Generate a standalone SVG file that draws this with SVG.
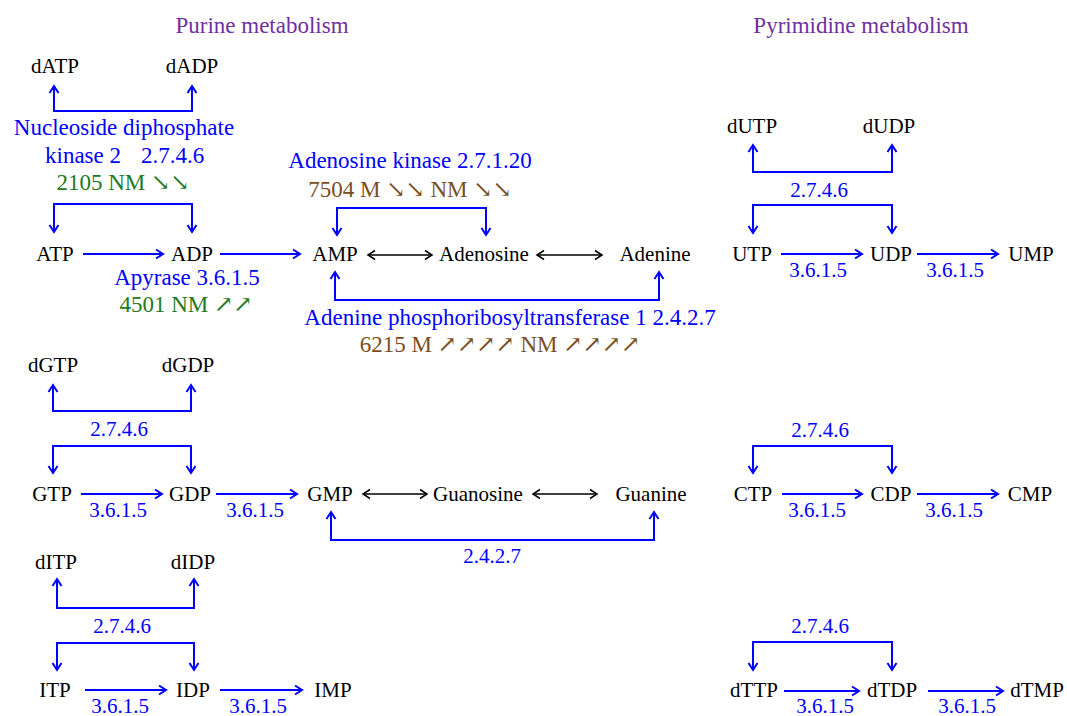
<svg xmlns="http://www.w3.org/2000/svg" width="1067" height="716" viewBox="0 0 1067 716">
  <style>
    text { font-family: "Liberation Serif", "DejaVu Serif", serif; }
    .node { font-size: 21px; fill: #000; text-anchor: middle; }
    .title { font-size: 23px; fill: #7030A0; text-anchor: middle; }
    .enz { font-size: 23px; fill: #0000FF; text-anchor: middle; }
    .ec { font-size: 21px; fill: #0000FF; text-anchor: middle; }
    .exprG { font-size: 23px; fill: #237A23; text-anchor: middle; }
    .exprB { font-size: 23px; fill: #7A4E22; text-anchor: middle; }
    .flow { fill: none; stroke: #0000FF; stroke-width: 2; marker-end: url(#arrowBlue); }
    .rev { fill: none; stroke: #000; stroke-width: 1.5; marker-start: url(#arrowBlack); marker-end: url(#arrowBlack); }
  </style>
  <defs>
    <marker id="arrowBlue" markerUnits="userSpaceOnUse" markerWidth="14" markerHeight="14" viewBox="-10 -7 14 14" refX="0" refY="0" orient="auto">
      <path d="M-7,-4.5 L0,0 L-7,4.5" fill="none" stroke="#0000FF" stroke-width="2"/>
    </marker>
    <marker id="arrowBlack" markerUnits="userSpaceOnUse" markerWidth="14" markerHeight="14" viewBox="-10 -7 14 14" refX="0" refY="0" orient="auto-start-reverse">
      <path d="M-7,-4.5 L0,0 L-7,4.5" fill="none" stroke="#000" stroke-width="1.5"/>
    </marker>
  </defs>

  <rect width="1067" height="716" fill="#fff"/>

  <!-- section titles -->
  <text class="title" x="262" y="33">Purine metabolism</text>
  <text class="title" x="861" y="33">Pyrimidine metabolism</text>

  <!-- purine: adenine branch -->
  <g id="dATP"><text class="node" x="55" y="73">dATP</text></g>
  <g id="dADP"><text class="node" x="192" y="73">dADP</text></g>
  <g id="ATP"><text class="node" x="55" y="261">ATP</text></g>
  <g id="ADP"><text class="node" x="192" y="261">ADP</text></g>
  <g id="AMP"><text class="node" x="335" y="261">AMP</text></g>
  <g id="Adenosine"><text class="node" x="484" y="261">Adenosine</text></g>
  <g id="Adenine"><text class="node" x="655" y="261">Adenine</text></g>

  <!-- purine: guanine branch -->
  <g id="dGTP"><text class="node" x="53" y="372">dGTP</text></g>
  <g id="dGDP"><text class="node" x="188" y="372">dGDP</text></g>
  <g id="GTP"><text class="node" x="52" y="501">GTP</text></g>
  <g id="GDP"><text class="node" x="190" y="501">GDP</text></g>
  <g id="GMP"><text class="node" x="330" y="501">GMP</text></g>
  <g id="Guanosine"><text class="node" x="478" y="501">Guanosine</text></g>
  <g id="Guanine"><text class="node" x="651" y="501">Guanine</text></g>

  <!-- purine: inosine branch -->
  <g id="dITP"><text class="node" x="56" y="569">dITP</text></g>
  <g id="dIDP"><text class="node" x="193" y="569">dIDP</text></g>
  <g id="ITP"><text class="node" x="55" y="697">ITP</text></g>
  <g id="IDP"><text class="node" x="193" y="697">IDP</text></g>
  <g id="IMP"><text class="node" x="333" y="697">IMP</text></g>

  <!-- pyrimidine -->
  <g id="dUTP"><text class="node" x="752" y="133">dUTP</text></g>
  <g id="dUDP"><text class="node" x="889" y="133">dUDP</text></g>
  <g id="UTP"><text class="node" x="752" y="261">UTP</text></g>
  <g id="UDP"><text class="node" x="891" y="261">UDP</text></g>
  <g id="UMP"><text class="node" x="1031" y="261">UMP</text></g>
  <g id="CTP"><text class="node" x="753" y="501">CTP</text></g>
  <g id="CDP"><text class="node" x="891" y="501">CDP</text></g>
  <g id="CMP"><text class="node" x="1030" y="501">CMP</text></g>
  <g id="dTTP"><text class="node" x="754" y="697">dTTP</text></g>
  <g id="dTDP"><text class="node" x="892" y="697">dTDP</text></g>
  <g id="dTMP"><text class="node" x="1037" y="697">dTMP</text></g>

  <!-- connectors -->
  <g id="connectors">
    <!-- dATP / dADP / ATP / ADP -->
    <path class="flow" d="M124,111 H54 V86"/>
    <path class="flow" d="M124,111 H192 V86"/>
    <path class="flow" d="M124,204 H54 V232"/>
    <path class="flow" d="M124,204 H192 V232"/>
    <path class="flow" d="M83,254 H163"/>
    <path class="flow" d="M220,254 H300"/>
    <!-- adenosine kinase / APRT -->
    <path class="flow" d="M410,208 H337 V235"/>
    <path class="flow" d="M410,208 H486 V235"/>
    <path class="flow" d="M497,300 H335 V272"/>
    <path class="flow" d="M497,300 H659 V272"/>
    <path class="rev" d="M368,255 H432"/>
    <path class="rev" d="M537,255 H602"/>

    <!-- guanine branch -->
    <path class="flow" d="M122,411 H53 V385"/>
    <path class="flow" d="M122,411 H191 V385"/>
    <path class="flow" d="M122,446 H53 V473"/>
    <path class="flow" d="M122,446 H191 V473"/>
    <path class="flow" d="M81,494 H162"/>
    <path class="flow" d="M216,494 H297"/>
    <path class="rev" d="M363,494 H427"/>
    <path class="rev" d="M533,494 H597"/>
    <path class="flow" d="M492,540 H331 V512"/>
    <path class="flow" d="M492,540 H654 V512"/>

    <!-- inosine branch -->
    <path class="flow" d="M125,608 H57 V579"/>
    <path class="flow" d="M125,608 H194 V579"/>
    <path class="flow" d="M125,643 H57 V670"/>
    <path class="flow" d="M125,643 H194 V670"/>
    <path class="flow" d="M85,690 H166"/>
    <path class="flow" d="M220,690 H302"/>

    <!-- uridine -->
    <path class="flow" d="M822,172 H753 V145"/>
    <path class="flow" d="M822,172 H892 V145"/>
    <path class="flow" d="M822,205 H753 V233"/>
    <path class="flow" d="M822,205 H892 V233"/>
    <path class="flow" d="M781,254 H862"/>
    <path class="flow" d="M917,254 H998"/>

    <!-- cytidine -->
    <path class="flow" d="M822,446 H753 V473"/>
    <path class="flow" d="M822,446 H892 V473"/>
    <path class="flow" d="M782,494 H862"/>
    <path class="flow" d="M917,494 H998"/>

    <!-- thymidine -->
    <path class="flow" d="M822,642 H753 V670"/>
    <path class="flow" d="M822,642 H892 V670"/>
    <path class="flow" d="M784,691 H859"/>
    <path class="flow" d="M928,691 H1003"/>
  </g>

  <!-- enzyme labels -->
  <g id="labels">
    <text class="enz" x="124" y="135">Nucleoside diphosphate</text>
    <text class="enz" style="text-anchor:start" y="163"><tspan x="45">kinase 2</tspan><tspan x="141">2.7.4.6</tspan></text>
    <text class="exprG" x="123" y="190">2105 NM ↘↘</text>
    <text class="enz" x="187" y="285">Apyrase 3.6.1.5</text>
    <text class="exprG" x="186" y="312">4501 NM ↗↗</text>
    <text class="enz" x="410" y="168">Adenosine kinase 2.7.1.20</text>
    <text class="exprB" x="410" y="197">7504 M ↘↘ NM ↘↘</text>
    <text class="enz" x="510" y="325">Adenine phosphoribosyltransferase 1 2.4.2.7</text>
    <text class="exprB" x="500" y="352">6215 M ↗↗↗↗ NM ↗↗↗↗</text>

    <text class="ec" x="119" y="436">2.7.4.6</text>
    <text class="ec" x="118" y="517">3.6.1.5</text>
    <text class="ec" x="255" y="517">3.6.1.5</text>
    <text class="ec" x="492" y="563">2.4.2.7</text>

    <text class="ec" x="122" y="633">2.7.4.6</text>
    <text class="ec" x="120" y="713">3.6.1.5</text>
    <text class="ec" x="258" y="713">3.6.1.5</text>

    <text class="ec" x="819" y="197">2.7.4.6</text>
    <text class="ec" x="818" y="277">3.6.1.5</text>
    <text class="ec" x="955" y="277">3.6.1.5</text>

    <text class="ec" x="820" y="437">2.7.4.6</text>
    <text class="ec" x="817" y="517">3.6.1.5</text>
    <text class="ec" x="954" y="517">3.6.1.5</text>

    <text class="ec" x="820" y="633">2.7.4.6</text>
    <text class="ec" x="825" y="713">3.6.1.5</text>
    <text class="ec" x="967" y="713">3.6.1.5</text>
  </g>
</svg>
